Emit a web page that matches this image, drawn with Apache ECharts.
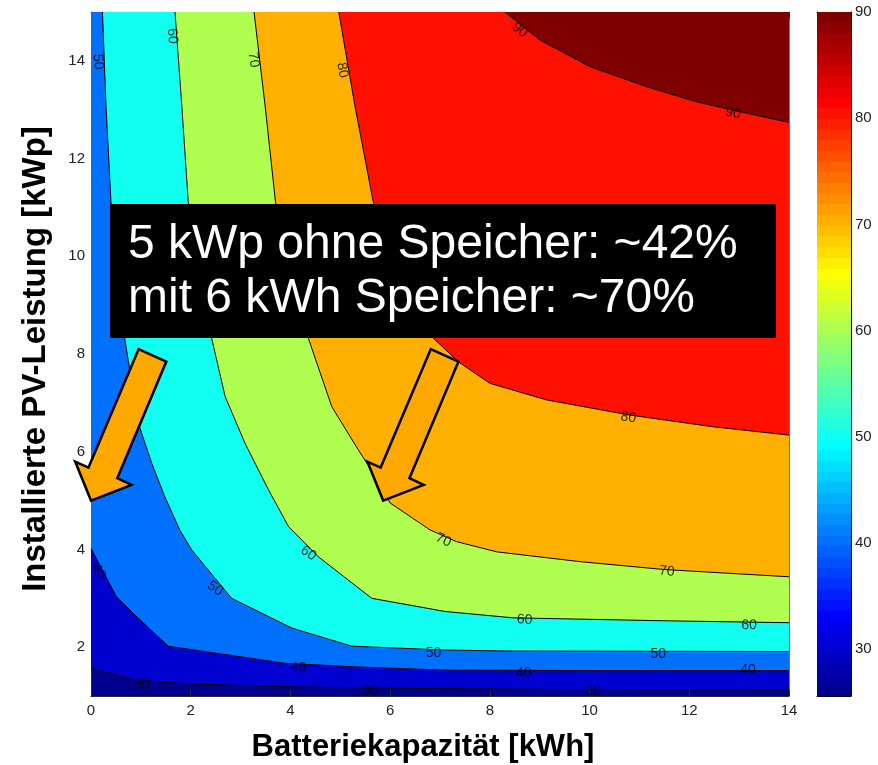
<!DOCTYPE html>
<html><head><meta charset="utf-8">
<script src="https://cdn.jsdelivr.net/npm/echarts@6/dist/echarts.min.js"></script>
<style>html,body{margin:0;padding:0;background:#fff}#c{width:878px;height:765px}</style>
</head><body><div id="c"></div>
<script>
// ---- data ----
const xTicks = [0, 2, 4, 6, 8, 10, 12, 14];
const yTicks = [2, 4, 6, 8, 10, 12, 14];
const cbTicks = [30, 40, 50, 60, 70, 80, 90];
const xRange = [0, 14];
const yRange = [1, 15];
const cbRange = [25.6, 90];
const levels = [30, 40, 50, 60, 70, 80, 90];

const c30 = [[0,1.57],[0.88,1.33],[1.89,1.25],[3.89,1.19],[5.9,1.16],[7.1,1.15],[10,1.13],[14,1.12]];
const c40 = [[0,4.02],[0.51,3.03],[0.95,2.59],[1.55,2.02],[2.55,1.87],[3.89,1.67],[5.23,1.6],[7.1,1.53],[10,1.52],[14,1.52]];
const c50 = [[0.23,15],[0.30,13.1],[0.40,11.12],[0.52,9.7],[0.68,8.29],[0.95,6.58],[1.22,5.76],[1.48,5.08],[1.78,4.4],[2.02,3.99],[2.82,3.0],[4.03,2.39],[5.23,2.02],[7.1,1.94],[8.47,1.92],[14,1.91]];
const c60 = [[1.685,15],[1.82,13.1],[1.95,11.12],[2.15,9.7],[2.42,8.32],[2.69,7.13],[3.09,6.17],[3.56,5.22],[3.96,4.47],[4.56,3.85],[5.63,3.0],[7.1,2.73],[8.47,2.6],[11.48,2.54],[14,2.5]];
const c70 = [[3.27,15],[3.49,13.1],[3.70,11.12],[4.0,9.7],[4.36,8.32],[4.83,6.92],[5.36,6.04],[5.70,5.5],[6.0,4.95],[6.80,4.40],[7.33,4.16],[8.14,3.95],[9.81,3.75],[11.48,3.59],[12.82,3.51],[14,3.44]];
const c80 = [[4.97,15],[5.29,13.1],[5.66,11.12],[6.15,9.8],[6.6,8.8],[6.87,8.32],[7.37,7.84],[8.0,7.4],[9.14,7.06],[10.81,6.75],[12.48,6.51],[14,6.34]];
const c90 = [[8.30,15],[9.0,14.43],[10.01,13.88],[11.15,13.47],[12.15,13.16],[13.15,12.93],[14,12.74]];
const contours = [c30, c40, c50, c60, c70, c80, c90];

// contour labels: [x, y, level]
const contourLabels = [
  [0.14,13.98,50],[1.63,14.51,60],[3.26,14.02,70],[5.04,13.81,80],[8.60,14.63,90],[12.88,12.93,90],
  [10.78,6.70,80],[7.07,4.19,70],[11.55,3.55,70],[8.70,2.56,60],[13.20,2.45,60],[4.36,3.92,60],
  [6.87,1.87,50],[11.38,1.85,50],[2.49,3.20,50],[4.16,1.57,40],[8.68,1.47,40],[13.18,1.52,40],
  [0.15,3.55,40],[1.02,1.23,30],[5.60,1.09,30],[10.07,1.09,30]
];
const arrowTips = [[0,5],[5.86,5]];
const boxText = '5 kWp ohne Speicher: ~42%\nmit 6 kWh Speicher: ~70%';
const xName = 'Batteriekapazität [kWh]';
const yName = 'Installierte PV-Leistung [kWp]';

// ---- styles ----
const labelAngles = [-86,-86,-83,-80,-39,-12,-10,-25,-5,-2,-1,-35,0,0,-35,0,0,0,-60,-3,0,0];
const levelColors = ['#0000D0','#0070FF','#10FFF0','#B0FF50','#FFB000','#FF1000','#800000'];
const baseColor = '#00008F';
const arrowShape = [[47.6,-151.4],[75.3,-139],[26.3,-22.4],[40.5,-15.7],[0,0],[-15.8,-39],[-2.5,-33]];
const axisColor = '#2a2a2a';
const FONT = '"Liberation Sans", Arial, Helvetica, sans-serif';

function jet64(i){
  const row = i + 1;
  const r = row<=24?0: row<=40?(row-24)/16: row<=56?1: 1-(row-56)/16;
  const g = row<=8?0: row<=24?(row-8)/16: row<=40?1: row<=56?1-(row-40)/16: 0;
  const b = row<=8?(row+8)/16: row<=24?1: row<=40?1-(row-24)/16: 0;
  const h = v => Math.round(v*255).toString(16).padStart(2,'0');
  return '#'+h(r)+h(g)+h(b);
}
const jetStops = [];
for (let i=0;i<64;i++){ const c=jet64(i); jetStops.push({offset:i/64,color:c},{offset:(i+1)/64,color:c}); }

const chart = echarts.init(document.getElementById('c'), null, {renderer:'canvas'});

const lineSeries = contours.map(c => ({
  type:'line', xAxisIndex:0, yAxisIndex:0, data:c, showSymbol:false, symbol:'none',
  lineStyle:{color:'#000', width:1}, z:3, silent:true, animation:false
}));

const option = {
  animation:false,
  grid:[
    {left:91, top:12, width:698, height:684, show:true, backgroundColor:baseColor, borderWidth:0},
    {left:817, top:12, width:34, height:684, show:false}
  ],
  xAxis:[
    {gridIndex:0, type:'value', min:xRange[0], max:xRange[1], interval:2, position:'bottom',
     axisLine:{show:true, onZero:false, lineStyle:{color:axisColor}},
     axisTick:{show:true, inside:true, length:6, lineStyle:{color:axisColor}},
     axisLabel:{fontSize:15, color:'#222', margin:7, fontFamily:FONT}, splitLine:{show:false}},
    {gridIndex:0, type:'value', min:xRange[0], max:xRange[1], interval:2, position:'top',
     axisLine:{show:true, onZero:false, lineStyle:{color:'#777'}},
     axisTick:{show:true, inside:true, length:6, lineStyle:{color:axisColor}},
     axisLabel:{show:false}, splitLine:{show:false}},
    {gridIndex:1, type:'value', min:0, max:1, position:'bottom',
     axisLine:{show:true, onZero:false, lineStyle:{color:'#000'}}, axisTick:{show:false}, axisLabel:{show:false}, splitLine:{show:false}},
    {gridIndex:1, type:'value', min:0, max:1, position:'top',
     axisLine:{show:true, onZero:false, lineStyle:{color:'#000'}}, axisTick:{show:false}, axisLabel:{show:false}, splitLine:{show:false}}
  ],
  yAxis:[
    {gridIndex:0, type:'value', min:yRange[0], max:yRange[1], position:'left',
     axisLine:{show:true, onZero:false, lineStyle:{color:axisColor}},
     axisTick:{show:true, inside:true, length:6, customValues:yTicks, lineStyle:{color:axisColor}},
     axisLabel:{fontSize:15, color:'#222', margin:6, fontFamily:FONT, customValues:yTicks}, splitLine:{show:false}},
    {gridIndex:0, type:'value', min:yRange[0], max:yRange[1], position:'right',
     axisLine:{show:true, onZero:false, lineStyle:{color:'#777'}},
     axisTick:{show:true, inside:true, length:6, customValues:yTicks, lineStyle:{color:axisColor}},
     axisLabel:{show:false}, splitLine:{show:false}},
    {gridIndex:1, type:'value', min:cbRange[0], max:cbRange[1], position:'left',
     axisLine:{show:true, onZero:false, lineStyle:{color:'#000'}},
     axisTick:{show:true, inside:true, length:5, customValues:cbTicks, lineStyle:{color:'#000'}},
     axisLabel:{show:false}, splitLine:{show:false}},
    {gridIndex:1, type:'value', min:cbRange[0], max:cbRange[1], position:'right',
     axisLine:{show:true, onZero:false, lineStyle:{color:'#000'}},
     axisTick:{show:true, inside:true, length:5, customValues:cbTicks, lineStyle:{color:'#000'}},
     axisLabel:{fontSize:15, color:'#222', margin:4, fontFamily:FONT, customValues:cbTicks}, splitLine:{show:false}}
  ],
  series:[
    {type:'custom', xAxisIndex:0, yAxisIndex:0, z:1, silent:true, clip:true,
     data: levels.map((l,i)=>[i, l]),
     renderItem(params, api){
       const i = params.dataIndex;
       const c = contours[i];
       const pts = c.map(p => api.coord(p));
       pts.push(api.coord([xRange[1], yRange[1]]));
       if (c[0][0] === xRange[0]) pts.push(api.coord([xRange[0], yRange[1]]));
       return {type:'polygon', shape:{points:pts}, style:{fill:levelColors[i], stroke:null}};
     }},
    ...lineSeries,
    {type:'scatter', xAxisIndex:0, yAxisIndex:0, symbolSize:0, z:4, silent:true,
     data: contourLabels.map((l,i)=>({name:String(l[2]), value:[l[0],l[1]], label:{rotate:labelAngles[i]}})),
     label:{show:true, position:'inside', formatter:'{b}', color:'#000', fontSize:14, fontFamily:FONT}},
    {type:'custom', xAxisIndex:0, yAxisIndex:0, z:6, silent:true, clip:false,
     data: arrowTips,
     renderItem(params, api){
       const tip = api.coord([api.value(0), api.value(1)]);
       const pts = arrowShape.map(o => [tip[0]+o[0], tip[1]+o[1]]);
       return {type:'polygon', shape:{points:pts}, style:{fill:'#FFA800', stroke:'#000', lineWidth:2.5, lineJoin:'miter'}};
     }},
    {type:'custom', xAxisIndex:2, yAxisIndex:2, z:1, silent:true,
     data:[[0, cbRange[0], 1, cbRange[1]]],
     renderItem(params, api){
       const p0 = api.coord([api.value(0), api.value(3)]);
       const p1 = api.coord([api.value(2), api.value(1)]);
       return {type:'rect', shape:{x:p0[0], y:p0[1], width:p1[0]-p0[0], height:p1[1]-p0[1]},
               style:{fill:new echarts.graphic.LinearGradient(0,1,0,0,jetStops)}};
     }}
  ],
  graphic:[
    {type:'rect', left:110, top:204, shape:{width:666, height:134}, style:{fill:'#000'}, z:100},
    {type:'text', left:128, top:218, z:101,
     style:{text:boxText, fill:'#fff', fontSize:48, fontFamily:FONT, lineHeight:54}},
    {type:'text', x:423, y:747, z:101,
     style:{text:xName, fill:'#000', fontSize:31, fontWeight:'bold', fontFamily:FONT, align:'center', verticalAlign:'middle'}},
    {type:'text', x:36, y:359, rotation:Math.PI/2, z:101,
     style:{text:yName, fill:'#000', fontSize:33, fontWeight:'bold', fontFamily:FONT, align:'center', verticalAlign:'middle'}}
  ]
};
chart.setOption(option);
</script>
</body></html>
